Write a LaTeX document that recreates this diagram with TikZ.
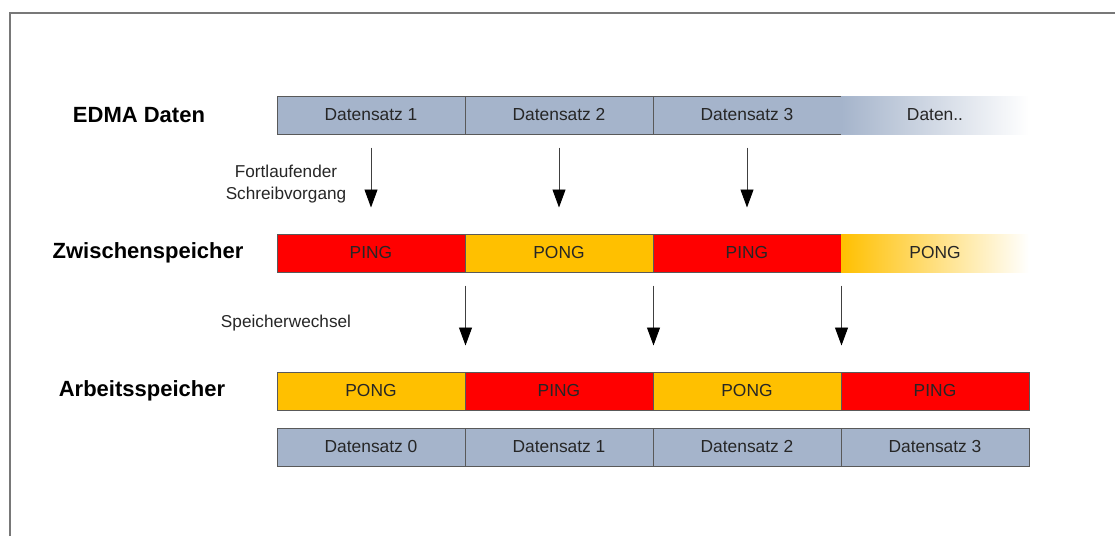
\documentclass[tikz,border=0pt]{standalone}
\usepackage{fontspec}
\setmainfont{Liberation Sans}
\usepackage{tikz}
\usetikzlibrary{arrows.meta,shapes}
\usetikzlibrary{calc}
\definecolor{datablue}{RGB}{165,180,203}
\definecolor{pingred}{RGB}{255,0,0}
\definecolor{pongyellow}{RGB}{255,192,0}
\definecolor{framegray}{RGB}{120,120,120}
\tikzstyle{cell}=[rectangle,draw=black!65,line width=1pt,minimum width=188pt,minimum height=38pt,inner sep=0pt,font=\fontsize{17.4}{19}\selectfont,text=black!85]
\tikzstyle{fadecell}=[cell,draw=none]
\tikzstyle{rowlabel}=[font=\fontsize{22}{24}\selectfont\bfseries]
\tikzstyle{note}=[font=\fontsize{17.2}{22}\selectfont,align=center,text=black!85]
\tikzstyle{edge} = [draw,line width=0.9pt,black!75,-{Triangle[length=18pt,width=13pt,color=black,fill=black]}]

\begin{document}
\begin{tikzpicture}[x=1pt,y=-1pt]

   \useasboundingbox (0,0) rectangle (1115,536);
   \draw[framegray,line width=1.5pt] (10,536) -- (10,13) -- (1115,13);

   \def\dx{188};
   \def\xa{371};

%EDMA row
    \foreach \i/\name/\txt in {0/d1/{Datensatz 1}, 1/d2/{Datensatz 2}, 2/d3/{Datensatz 3}}
    	\node[cell,fill=datablue] (\name) at (\xa+\i*\dx, 115) {\txt};
    \node[fadecell,left color=datablue,right color=white] (d4) at (\xa+3*\dx, 115) {Daten..};

%Buffer row
    \foreach \i/\name/\txt/\col in {0/z1/PING/pingred, 1/z2/PONG/pongyellow, 2/z3/PING/pingred}
    	\node[cell,fill=\col] (\name) at (\xa+\i*\dx, 253) {\txt};
    \node[fadecell,left color=pongyellow,right color=white] (z4) at (\xa+3*\dx, 253) {PONG};

%Work row
    \foreach \i/\name/\txt/\col in {0/a1/PONG/pongyellow, 1/a2/PING/pingred, 2/a3/PONG/pongyellow, 3/a4/PING/pingred}
    	\node[cell,fill=\col] (\name) at (\xa+\i*\dx, 391) {\txt};
    \foreach \i/\name/\txt in {0/s1/{Datensatz 0}, 1/s2/{Datensatz 1}, 2/s3/{Datensatz 2}, 3/s4/{Datensatz 3}}
    	\node[cell,fill=datablue] (\name) at (\xa+\i*\dx, 447) {\txt};

    % write arrows
    \foreach \source/ \dest in {d1/z1, d2/z2, d3/z3}
        \path[edge] ([yshift=-13pt]\source.south) -- ([yshift=26pt]\dest.north);

    % switch arrows
    \foreach \source/ \dest in {z1/a1, z2/a2, z3/a3}
        \path[edge] ([yshift=-13pt]\source.south east) -- ([yshift=26pt]\dest.north east);

% Label
\node[rowlabel] (lEdma) at (139, 115) {EDMA Daten};
\node[rowlabel] (lZw) at (148, 253) {Zwischenspeicher};
\node[rowlabel] (lAr) at (142, 391) {Arbeitsspeicher};
\node[note] (nWrite) at (286, 184) {Fortlaufender\\Schreibvorgang};
\node[note] (nSwitch) at (286, 323) {Speicherwechsel};

\end{tikzpicture}
\end{document}
